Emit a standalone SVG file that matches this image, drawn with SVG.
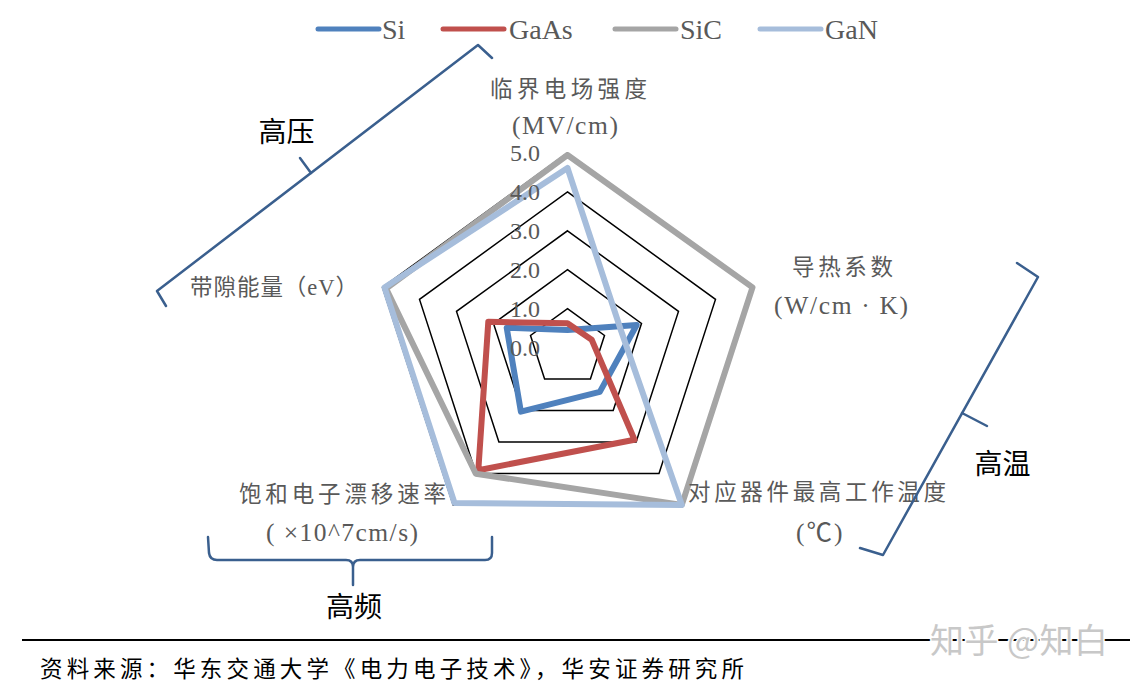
<svg xmlns="http://www.w3.org/2000/svg" width="1138" height="688" viewBox="0 0 1138 688">
<style>
.grid{fill:none;stroke:#000;stroke-width:1.5}
.ser{fill:none;stroke-width:6;stroke-linejoin:round;stroke-linecap:round}
.leg{stroke-width:5;stroke-linecap:round}
.legt{font-family:"Liberation Serif","Noto Sans CJK SC",serif;font-size:28px;fill:#595959}
.num{font-family:"Liberation Serif",serif;font-size:24px;fill:#595959;text-anchor:end}
.ax{font-family:"Liberation Serif","Noto Sans CJK SC",serif;font-size:22.5px;fill:#595959}
.axl{font-family:"Liberation Serif","Noto Sans CJK SC",serif;font-size:25.5px;fill:#595959}
.br{fill:none;stroke:#3A5F8E;stroke-width:2.5;stroke-linejoin:round;stroke-linecap:round}
.big{font-family:"Noto Sans CJK SC",sans-serif;font-size:28px;fill:#000;text-anchor:middle}
.src{font-family:"Noto Sans CJK SC",sans-serif;font-size:22.5px;fill:#000}
</style>
<rect width="1138" height="688" fill="#fff"/>
<g id="legend">
<line class="leg" x1="318" y1="29" x2="379" y2="29" stroke="#4F81BD"/>
<text class="legt" x="382" y="38.5">Si</text>
<line class="leg" x1="443" y1="29" x2="504" y2="29" stroke="#C0504D"/>
<text class="legt" x="509" y="38.5">GaAs</text>
<line class="leg" x1="615" y1="29" x2="676" y2="29" stroke="#A5A5A5"/>
<text class="legt" x="680" y="38.5">SiC</text>
<line class="leg" x1="760" y1="29" x2="821" y2="29" stroke="#A6BDDB"/>
<text class="legt" x="825" y="38.5">GaN</text>
</g>
<g id="grid">
<polygon class="grid" points="567.5,308.6 604.5,335.5 590.4,379.0 544.6,379.0 530.5,335.5"/>
<polygon class="grid" points="567.5,269.7 641.5,323.5 613.2,410.4 521.8,410.4 493.5,323.5"/>
<polygon class="grid" points="567.5,230.8 678.5,311.4 636.1,441.9 498.9,441.9 456.5,311.4"/>
<polygon class="grid" points="567.5,191.9 715.5,299.4 659.0,473.4 476.0,473.4 419.5,299.4"/>
<polygon class="grid" points="567.5,153.0 752.5,287.4 681.8,504.9 453.2,504.9 382.5,287.4" stroke="#23395a"/>
</g>
<g id="series">
<polygon id="si" class="ser" stroke="#4F81BD" points="567.5,330.0 636.7,325.0 599.8,391.9 520.9,411.7 506.7,327.8"/>
<polygon id="gaas" class="ser" stroke="#C0504D" points="567.5,323.3 591.7,339.7 634.5,439.7 478.3,470.2 488.3,321.8"/>
<polygon id="sic" class="ser" stroke="#A5A5A5" points="567.5,155.0 752.5,287.4 681.8,504.9 475.8,473.7 386.1,288.6"/>
<polygon id="gan" class="ser" stroke="#A6BDDB" points="567.5,168.0 620.9,330.2 681.8,504.9 454.5,503.0 384.5,287.5"/>
</g>
<g id="scale">
<text class="num" x="540" y="161">5.0</text>
<text class="num" x="540" y="200">4.0</text>
<text class="num" x="540" y="239">3.0</text>
<text class="num" x="540" y="278">2.0</text>
<text class="num" x="540" y="317">1.0</text>
<text class="num" x="540" y="356">0.0</text>
</g>
<g id="axis-labels">
<text class="ax" x="490" y="96.5" textLength="157">临界电场强度</text>
<text class="axl" x="512" y="134" textLength="106">(MV/cm)</text>
<text class="ax" x="792" y="275" textLength="101">导热系数</text>
<text class="axl" x="774" y="314" textLength="134">(W/cm · K)</text>
<text class="ax" x="688" y="500" textLength="258">对应器件最高工作温度</text>
<text class="axl" x="796" y="540.5" letter-spacing="2">(℃)</text>
<text class="ax" x="239" y="501.5" textLength="207">饱和电子漂移速率</text>
<text class="axl" x="266" y="540.5" textLength="152">( ×10^7cm/s)</text>
<text class="ax" x="190" y="295" textLength="168">带隙能量（eV）</text>
</g>
<g id="bracket-high-voltage">
<polyline class="br" points="166,306 157,291 478,45 492,58"/>
<line class="br" x1="311" y1="173" x2="300" y2="158"/>
<text class="big" x="286.5" y="142">高压</text>
</g>
<g id="bracket-high-temp">
<polyline class="br" points="1017,263 1038,277 883,555 860,548"/>
<line class="br" x1="962" y1="413" x2="987" y2="426"/>
<text class="big" x="1002.5" y="474">高温</text>
</g>
<g id="bracket-high-freq">
<path class="br" d="M208,537 L209,553 Q210,560 217,560 L346,560 Q353,560 353,567 L353,585 M353,567 Q353,560 360,560 L485,560 Q492,560 492,553 L492,537"/>
<text class="big" x="354" y="617">高频</text>
</g>
<g id="footer">
<line x1="22" y1="640" x2="1130" y2="640" stroke="#000" stroke-width="2"/>
<text class="src" x="40" y="676.5" textLength="704">资料来源：华东交通大学《电力电子技术》，华安证券研究所</text>
<text x="930" y="653" font-family="Noto Sans CJK SC, sans-serif" font-size="34" fill="#c8c8c8" stroke="#fff" stroke-width="3" paint-order="stroke" textLength="178">知乎 @知白</text>
</g>
</svg>
